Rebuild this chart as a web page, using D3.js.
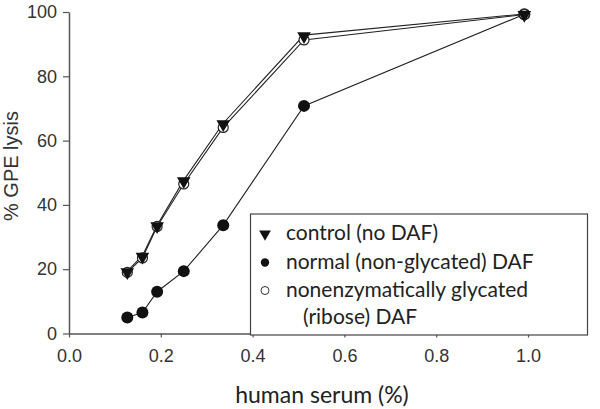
<!DOCTYPE html>
<html>
<head>
<meta charset="utf-8">
<script src="https://cdn.jsdelivr.net/npm/d3@7"></script>
<style>
  body { margin: 0; background: #fff; }
  svg { display: block; }
</style>
</head>
<body>
<div id="chart"></div>
<script>
// serum concentration (%) for each point
var serum = [0.127, 0.16, 0.192, 0.25, 0.336, 0.512, 0.992];
// % GPE lysis for each series
var control = [19.4, 24.2, 33.7, 47.7, 65.4, 92.8, 99.4];
var normalDaf = [5.0, 6.5, 13.0, 19.4, 33.7, 70.8, 99.3];
var glycated = [19.0, 23.5, 33.3, 46.5, 64.1, 91.3, 99.2];

var xTicks = [0, 0.2, 0.4, 0.6, 0.8, 1.0];
var yTicks = [0, 20, 40, 60, 80, 100];

var legendLabels = ["control (no DAF)", "normal (non-glycated) DAF", "nonenzymatically glycated", "(ribose) DAF"];

var width = 600, height = 409;
var margin = { left: 69, top: 12, right: 72, bottom: 75.5 };

var svg = d3.select("#chart").append("svg")
  .attr("width", width)
  .attr("height", height);

var x = d3.scaleLinear().domain([0, 1]).range([margin.left, width - margin.right]);
var y = d3.scaleLinear().domain([0, 100]).range([height - margin.bottom, margin.top]);

var axisColor = "#555";
var textColor = "#333";

// axes
var xAxis = svg.append("g")
  .attr("transform", "translate(0," + y(0) + ")")
  .call(d3.axisBottom(x).tickValues(xTicks).tickFormat(d3.format(".1f")).tickSize(4).tickSizeOuter(0));
var yAxis = svg.append("g")
  .attr("transform", "translate(" + x(0) + ",0)")
  .call(d3.axisLeft(y).tickValues(yTicks).tickSize(6).tickSizeOuter(0));

[xAxis, yAxis].forEach(function (g) {
  g.select(".domain").attr("stroke", axisColor).attr("stroke-width", 1.5);
  g.selectAll(".tick line").attr("stroke", axisColor).attr("stroke-width", 1.2);
  g.selectAll(".tick text")
    .attr("fill", textColor)
    .style("font-family", "Liberation Sans, Arial, sans-serif")
    .style("font-size", "18px");
});
xAxis.selectAll(".tick text").attr("dy", "1.2em");
yAxis.selectAll(".tick text").attr("x", -12);

// axis titles
svg.append("text")
  .attr("x", 322).attr("y", 403)
  .attr("text-anchor", "middle")
  .attr("fill", "#222")
  .style("font-family", "Lato, Open Sans, sans-serif")
  .style("font-size", "23px")
  .text("human serum (%)");

svg.append("text")
  .attr("transform", "translate(18,166) rotate(-90)")
  .attr("text-anchor", "middle")
  .attr("fill", textColor)
  .style("font-family", "Liberation Sans, Arial, sans-serif")
  .style("font-size", "20px")
  .text("% GPE lysis");

// legend box
var legend = svg.append("g");
legend.append("rect")
  .attr("x", 250.5).attr("y", 214)
  .attr("width", 337).attr("height", 121)
  .attr("fill", "#fff")
  .attr("stroke", "#444")
  .attr("stroke-width", 1.2);

var line = d3.line()
  .x(function (d) { return x(d[0]); })
  .y(function (d) { return y(d[1]); });

function pts(vals) {
  return serum.map(function (s, i) { return [s, vals[i]]; });
}

var tri = d3.symbol().type(d3.symbolTriangle).size(80);

// lines
[normalDaf, glycated, control].forEach(function (vals) {
  svg.append("path")
    .datum(pts(vals))
    .attr("d", line)
    .attr("fill", "none")
    .attr("stroke", "#222")
    .attr("stroke-width", 1.1);
});

// normal DAF: filled circles
svg.selectAll(".normal")
  .data(pts(normalDaf))
  .enter().append("circle")
  .attr("cx", function (d) { return x(d[0]); })
  .attr("cy", function (d) { return y(d[1]); })
  .attr("r", 6)
  .attr("fill", "#111");

// glycated: open circles
svg.selectAll(".glyc")
  .data(pts(glycated))
  .enter().append("circle")
  .attr("cx", function (d) { return x(d[0]); })
  .attr("cy", function (d) { return y(d[1]); })
  .attr("r", 5)
  .attr("fill", "#fff")
  .attr("stroke", "#222")
  .attr("stroke-width", 1.2);

// control: down triangles
svg.selectAll(".ctrl")
  .data(pts(control))
  .enter().append("path")
  .attr("d", tri)
  .attr("transform", function (d) { return "translate(" + x(d[0]) + "," + (y(d[1]) + 1) + ") rotate(180)"; })
  .attr("fill", "#111");

// legend entries
var rowY = [233, 261.5, 289.5, 317];
legend.append("path")
  .attr("d", d3.symbol().type(d3.symbolTriangle).size(60))
  .attr("transform", "translate(265," + (rowY[0] + 1) + ") rotate(180)")
  .attr("fill", "#111");
legend.append("circle")
  .attr("cx", 265).attr("cy", rowY[1] + 1).attr("r", 4.2)
  .attr("fill", "#111");
legend.append("circle")
  .attr("cx", 265).attr("cy", rowY[2] + 1).attr("r", 4)
  .attr("fill", "#fff").attr("stroke", "#333").attr("stroke-width", 1);

legend.selectAll(".lbl")
  .data(legendLabels)
  .enter().append("text")
  .attr("x", function (d, i) { return i === 3 ? 303 : 286; })
  .attr("y", function (d, i) { return rowY[i]; })
  .attr("dy", "0.35em")
  .attr("fill", "#222")
  .style("font-family", "Lato, Open Sans, sans-serif")
  .style("font-size", "21px")
  .text(function (d) { return d; });
</script>
</body>
</html>
